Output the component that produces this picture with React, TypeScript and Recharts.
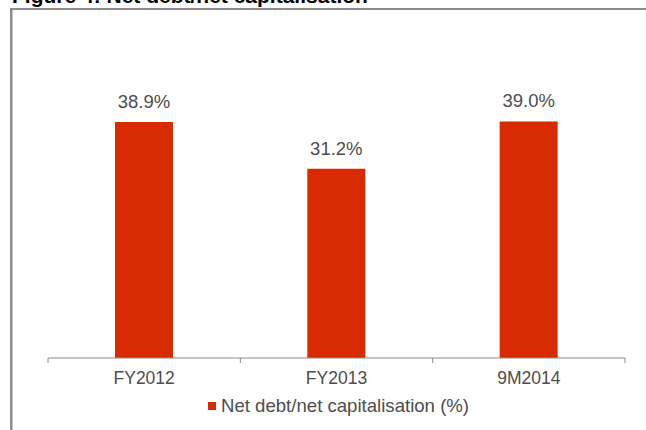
import React from 'react';
import { BarChart, Bar, XAxis, YAxis, LabelList, Legend, Customized } from 'recharts';

const categories = ['FY2012', 'FY2013', '9M2014'];
const netDebtRatio = [38.9, 31.2, 39.0];
const valueLabels = ['38.9%', '31.2%', '39.0%'];
const seriesName = 'Net debt/net capitalisation (%)';
const titleText = 'Figure 4: Net debt/net capitalisation';

const data = categories.map((c, i) => ({ category: c, value: netDebtRatio[i], label: valueLabels[i] }));

const W = 646;
const H = 430;
const MARGIN = { top: 85, right: 21, bottom: 0, left: 48 };
const BAND = (W - MARGIN.left - MARGIN.right) / categories.length;
const BAR_COLOR = '#D92B00';
const TEXT_COLOR = '#4D4D4D';
const AXIS_COLOR = '#8C8C8C';
const FONT = '"Liberation Sans", Arial, sans-serif';

function CategoryTick(props: any) {
  const { x, y, payload, index, visibleTicksCount } = props;
  const half = BAND / 2;
  return (
    <g>
      <line x1={x - half} x2={x - half} y1={y} y2={y + 5} stroke={AXIS_COLOR} strokeWidth={1} />
      {index === visibleTicksCount - 1 && (
        <line x1={x + half} x2={x + half} y1={y} y2={y + 5} stroke={AXIS_COLOR} strokeWidth={1} />
      )}
      <text x={x} y={y + 26} textAnchor="middle" fontSize={17.5} fill={TEXT_COLOR} fontFamily={FONT}>
        {payload.value}
      </text>
    </g>
  );
}

function LegendContent(props: any) {
  const items = props.payload || [];
  return (
    <div style={{ display: 'flex', alignItems: 'center', height: 20 }}>
      {items.map((it: any) => (
        <div key={it.value} style={{ display: 'flex', alignItems: 'center' }}>
          <span style={{ display: 'inline-block', width: 8, height: 8, background: it.color, marginRight: 5 }} />
          <span style={{ fontSize: 18.6, lineHeight: '20px', color: TEXT_COLOR, fontFamily: FONT, whiteSpace: 'nowrap' }}>
            {it.value}
          </span>
        </div>
      ))}
    </div>
  );
}

function Frame() {
  return (
    <g>
      <text x={12} y={3} fontSize={21} fontWeight="bold" fill="#000" fontFamily={FONT}>
        {titleText}
      </text>
      <rect x={10} y={8} width={W - 10} height={2} fill={AXIS_COLOR} />
      <rect x={10} y={8} width={2.5} height={H - 8} fill={AXIS_COLOR} />
    </g>
  );
}

export default function App() {
  return (
    <div style={{ position: 'absolute', left: 0, top: 0, width: W, height: H, background: '#fff' }}>
      <BarChart width={W} height={H} data={data} margin={MARGIN} style={{ fontFamily: FONT }}>
        <Customized component={Frame} />
        <YAxis hide domain={[0, 45]} />
        <XAxis
          dataKey="category"
          height={72}
          interval={0}
          tickSize={0}
          tickMargin={0}
          tickLine={false}
          axisLine={{ stroke: AXIS_COLOR, strokeWidth: 1 }}
          tick={<CategoryTick />}
        />
        <Legend
          layout="vertical"
          verticalAlign="middle"
          align="center"
          content={<LegendContent />}
          wrapperStyle={{ left: 208, top: 396, width: 'auto', height: 'auto', right: 'auto', bottom: 'auto' }}
        />
        <Bar dataKey="value" name={seriesName} fill={BAR_COLOR} barSize={58} isAnimationActive={false}>
          <LabelList dataKey="label" position="top" offset={14} fill={TEXT_COLOR} fontSize={18.5} fontFamily={FONT} />
        </Bar>
      </BarChart>
    </div>
  );
}
